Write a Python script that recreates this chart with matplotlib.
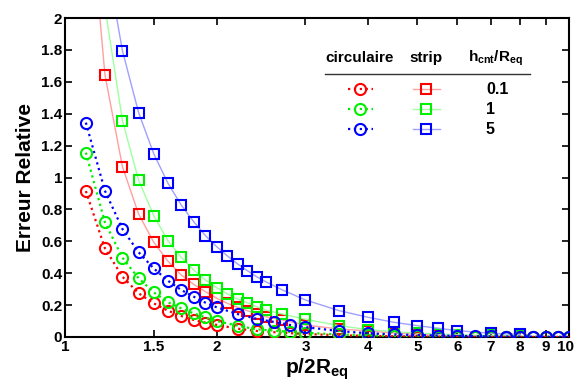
import matplotlib
matplotlib.use("Agg")
import matplotlib.pyplot as plt
from matplotlib.lines import Line2D
from matplotlib.transforms import ScaledTranslation
import numpy as np

plt.rcParams['font.family'] = ['Liberation Sans', 'DejaVu Sans']
plt.rcParams['font.weight'] = 'bold'
plt.rcParams['mathtext.fontset'] = 'custom'
plt.rcParams['mathtext.rm'] = 'Liberation Sans:bold'
plt.rcParams['mathtext.it'] = 'Liberation Sans:bold'
plt.rcParams['mathtext.bf'] = 'Liberation Sans:bold'
plt.rcParams['mathtext.default'] = 'rm'

# ---- data ----
x_circ = [1.1, 1.2, 1.3, 1.4, 1.5, 1.6, 1.7, 1.8, 1.9, 2.0, 2.2, 2.4, 2.6, 2.8, 3.0,
          3.5, 4.0, 4.5, 5.0, 5.5, 6.0, 6.5, 7.0, 7.5, 8.0, 8.5, 9.0, 9.5, 10.0]
circ_01 = [0.915, 0.556, 0.378, 0.274, 0.211, 0.165, 0.132, 0.107, 0.090, 0.076, 0.052, 0.038,
           0.030, 0.024, 0.019, 0.011, 0.007, 0.005, 0.003, 0.002, 0.0015, 0.001, 0.001, 0.0008,
           0.0006, 0.0005, 0.0004, 0.0003, 0.0003]
circ_1 = [1.156, 0.719, 0.497, 0.368, 0.280, 0.218, 0.180, 0.148, 0.123, 0.100, 0.071, 0.048,
          0.040, 0.032, 0.026, 0.016, 0.010, 0.007, 0.005, 0.003, 0.002, 0.0015, 0.001, 0.001,
          0.0008, 0.0006, 0.0005, 0.0004, 0.0003]
circ_5 = [1.344, 0.917, 0.677, 0.531, 0.430, 0.353, 0.295, 0.253, 0.215, 0.186, 0.144, 0.114,
          0.094, 0.075, 0.062, 0.037, 0.023, 0.016, 0.012, 0.009, 0.007, 0.005, 0.004, 0.003,
          0.002, 0.002, 0.0015, 0.001, 0.001]

x_strip = [1.1, 1.2, 1.3, 1.4, 1.5, 1.6, 1.7, 1.8, 1.9, 2.0, 2.1, 2.2, 2.3, 2.4, 2.5, 2.7,
           3.0, 3.5, 4.0, 4.5, 5.0, 5.5, 6.0, 7.0, 8.0]
strip_01 = [3.0, 1.645, 1.068, 0.770, 0.594, 0.476, 0.389, 0.330, 0.284, 0.243, 0.211, 0.186,
            0.165, 0.146, 0.127, 0.107, 0.075, 0.050, 0.038, 0.024, 0.018, 0.013, 0.010, 0.006, 0.004]
strip_1 = [3.5, 2.07, 1.356, 0.982, 0.761, 0.604, 0.500, 0.420, 0.357, 0.309, 0.270, 0.238,
           0.215, 0.190, 0.169, 0.144, 0.111, 0.071, 0.046, 0.033, 0.024, 0.019, 0.014, 0.010, 0.008]
strip_5 = [4.0, 2.42, 1.795, 1.406, 1.149, 0.965, 0.828, 0.723, 0.635, 0.566, 0.508, 0.458,
           0.416, 0.378, 0.347, 0.295, 0.232, 0.165, 0.123, 0.092, 0.071, 0.055, 0.040, 0.023, 0.017]

h_labels = ['0.1', '1', '5']
colors = ['#ff0000', '#00ee00', '#0000ff']
light = ['#ffa0a0', '#a0ffa0', '#a0a0ff']

xticks = [1, 1.5, 2, 3, 4, 5, 6, 7, 8, 9, 10]
xtick_labels = ['1', '1.5', '2', '3', '4', '5', '6', '7', '8', '9', '10']
yticks = [0, 0.2, 0.4, 0.6, 0.8, 1, 1.2, 1.4, 1.6, 1.8, 2]
ytick_labels = ['0', '0.2', '0.4', '0.6', '0.8', '1', '1.2', '1.4', '1.6', '1.8', '2']

# ---- figure ----
fig = plt.figure(figsize=(5.74, 3.90), dpi=100)
ax = fig.add_axes([65/574, 53/390, 504/574, 319/390])

strips = [strip_01, strip_1, strip_5]
circs = [circ_01, circ_1, circ_5]
for s, col, lc in zip(strips, colors, light):
    ax.plot(x_strip, s, '-', color=lc, lw=1.0, marker='s', ms=6.5, mfc='none',
            mec=col, mew=1.5, zorder=2)
for c, col in zip(circs, colors):
    ax.plot(x_circ, c, ':', color=col, lw=1.6, marker='o', ms=8, mfc='none',
            mec=col, mew=1.5, zorder=3)

ax.set_xscale('log')
ax.set_xlim(1, 10)
ax.set_ylim(0, 2)
ax.set_xticks(xticks)
ax.set_xticklabels(xtick_labels)
ax.xaxis.set_minor_locator(matplotlib.ticker.NullLocator())
ax.set_yticks(yticks)
ax.set_yticklabels(ytick_labels)
ax.tick_params(direction='in', length=5, width=1.2, top=True, right=True,
               labelsize=11, pad=2)
for lab in ax.get_xticklabels() + ax.get_yticklabels():
    lab.set_fontweight('bold')
last = ax.get_xticklabels()[-1]
last.set_transform(last.get_transform() + ScaledTranslation(-3/100, 0, fig.dpi_scale_trans))
for sp in ax.spines.values():
    sp.set_linewidth(1.5)

ax.set_xlabel(r'p/2R$_{\mathregular{eq}}$', fontsize=15, fontweight='bold', labelpad=2)
ax.set_ylabel('Erreur Relative', fontsize=15, fontweight='bold', labelpad=4)

# ---- table-like legend ----
def axx(px):
    return (px - 65) / 504
def axy(py):
    return (337 - py) / 319

T = ax.transAxes
ax.text(axx(360), axy(58), 'circulaire', transform=T, ha='center', va='center',
        fontsize=11, fontweight='bold')
ax.text(axx(426), axy(58), 'strip', transform=T, ha='center', va='center',
        fontsize=11, fontweight='bold')
ax.text(axx(495), axy(58), r'h$_{\mathregular{cnt}}$/R$_{\mathregular{eq}}$', transform=T,
        ha='center', va='center', fontsize=11, fontweight='bold')
ax.add_line(Line2D([axx(325), axx(530)], [axy(74), axy(74)], transform=T,
                   color='#333333', lw=1.0))
row_y = [89, 109, 129]
for ry, col, lc, lab in zip(row_y, colors, light, h_labels):
    ax.add_line(Line2D([axx(348), axx(360), axx(373)], [axy(ry)] * 3, transform=T,
                       ls=':', color=col, lw=1.6, marker='o', markevery=[1], ms=8,
                       mfc='none', mec=col, mew=1.5))
    ax.add_line(Line2D([axx(413), axx(426), axx(440)], [axy(ry)] * 3, transform=T,
                       ls='-', color=lc, lw=1.0, marker='s', markevery=[1], ms=6.5,
                       mfc='none', mec=col, mew=1.5))
    ax.text(axx(486), axy(ry), lab, transform=T, ha='left', va='center',
            fontsize=11.5, fontweight='bold')

fig.savefig('out.png', dpi=100)
